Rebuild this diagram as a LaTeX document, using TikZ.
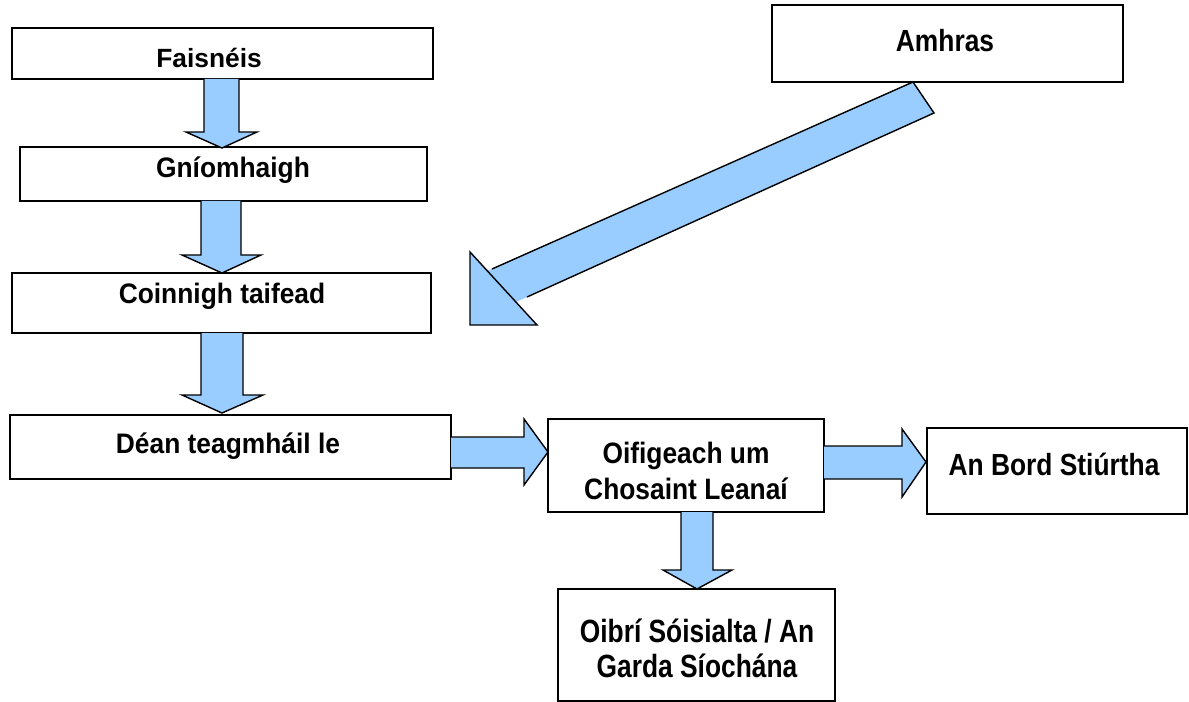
\documentclass[tikz,border=0pt]{standalone}
\usepackage{fontspec}
\setmainfont{Liberation Sans}
\usetikzlibrary{fit}
\definecolor{arrowblue}{RGB}{153,204,255}
\newcommand\vs[2]{\scalebox{1}[#1]{#2}}
\tikzset{
  box/.style={draw=black, line width=1.2pt, fill=white, inner sep=0pt, rectangle},
  lbl/.style={anchor=base, inner sep=0pt, font=\fontsize{15pt}{18pt}\selectfont\bfseries},
  blockarrow/.style={draw=black, fill=arrowblue, line width=0.8pt, line join=miter},
}
\begin{document}
\begin{tikzpicture}[x=0.02cm, y=-0.02cm]
\useasboundingbox (0,0) rectangle (1189,702);
% boxes
\node[box, fit={(12,28) (433,79)}] (fa) {};
\node[box, fit={(20,147) (427,201)}] (gn) {};
\node[box, fit={(12,273) (431,333)}] (co) {};
\node[box, fit={(10,415) (451,479)}] (de) {};
\node[box, fit={(548,419) (824,512)}] (oi) {};
\node[box, fit={(927,428) (1187,514)}] (bo) {};
\node[box, fit={(558,589) (835,701)}] (ob) {};
\node[box, fit={(772,5) (1123,82)}] (am) {};
% texts
\node[lbl] (fa-t) at (209,68) {Faisnéis};
\node[lbl] (gn-t) at (233,178) {\vs{1.07}{Gníomhaigh}};
\node[lbl] (co-t) at (222,304) {\vs{1.07}{Coinnigh taifead}};
\node[lbl] (de-t) at (228,453) {\vs{1.07}{Déan teagmháil le}};
\node[lbl] (oi-t1) at (686,463) {\vs{1.12}{Oifigeach um}};
\node[lbl] (oi-t2) at (686,499) {\vs{1.12}{Chosaint Leanaí}};
\node[lbl] (bo-t) at (1054,475) {\vs{1.16}{An Bord Stiúrtha}};
\node[lbl] (ob-t1) at (697,642) {\vs{1.22}{Oibrí Sóisialta / An}};
\node[lbl] (ob-t2) at (697,677) {\vs{1.22}{Garda Síochána}};
\node[lbl] (am-t) at (945,52) {\vs{1.16}{Amhras}};
% block arrows (down)
\draw[blockarrow] (204,79) -- (204,132) -- (186,132) -- (222,148) -- (257,132) -- (239,132) -- (239,79);
\draw[blockarrow] (201,201) -- (201,255) -- (182,255) -- (222,273) -- (261,255) -- (241,255) -- (241,201);
\draw[blockarrow] (201,333) -- (201,395) -- (182,395) -- (222,413) -- (263,395) -- (243,395) -- (243,333);
\draw[blockarrow] (681,512) -- (681,570) -- (663,570) -- (697,589) -- (732,570) -- (713,570) -- (713,512);
% block arrows (right)
\draw[blockarrow] (451,437) -- (524,437) -- (524,419) -- (548,452) -- (524,485) -- (524,468) -- (451,468);
\draw[blockarrow] (824,446) -- (902,446) -- (902,429) -- (926,462) -- (902,497) -- (902,479) -- (824,479);
% diagonal arrow from Amhras
\fill[arrowblue] (913,82) -- (934,113) -- (516,302) -- (487,271) -- cycle;
\draw[blockarrow] (470,252) -- (470,325) -- (537,325) -- cycle;
\draw[line width=0.8pt] (492,269) -- (913,82) -- (934,113) -- (527,297);
\end{tikzpicture}
\end{document}
